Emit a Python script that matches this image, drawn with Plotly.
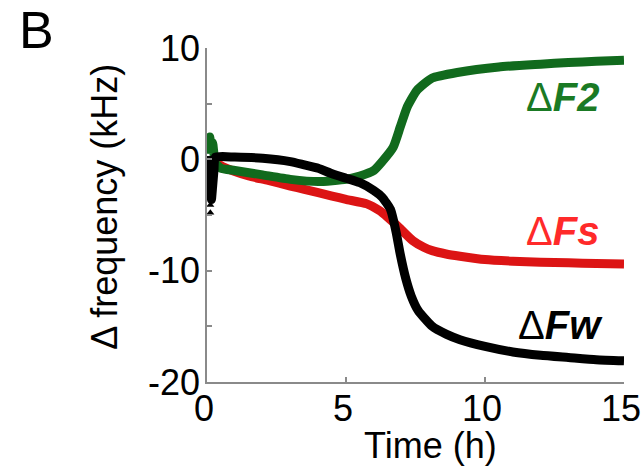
import plotly.graph_objects as go

# ---- data ----
t_fw = [0.0, 0.04, 0.08, 0.12, 0.16, 0.2, 0.25, 0.3, 1.0, 2.0, 3.0, 3.5, 4.0, 4.5, 5.0, 5.5, 6.0, 6.3, 6.6,
        6.8, 6.95, 7.15, 7.35, 7.6, 8.1, 8.6, 9.1, 10.0, 11.0, 12.0, 13.0, 14.0, 15.0]
fw = [0.3, -1.5, -3.2, -2.0, -3.6, -2.5, -1.0, 0.2, 0.2, 0.1, -0.2, -0.5, -0.8, -1.3, -1.7, -2.1, -2.8, -3.4, -4.5,
      -6.5, -8.5, -10.7, -12.3, -13.6, -15.0, -15.7, -16.2, -16.8, -17.3, -17.6, -17.8, -18.0, -18.1]

t_fs = [0.1, 0.3, 0.6, 1.0, 1.5, 2.2, 3.0, 3.5, 4.5, 5.0, 5.75, 6.2, 6.5, 6.9, 7.4, 7.8, 8.1, 8.6,
        9.1, 10.0, 11.0, 12.0, 13.0, 14.0, 15.0]
fs = [-0.5, -0.3, -0.7, -1.1, -1.5, -1.9, -2.4, -2.7, -3.3, -3.6, -4.0, -4.6, -5.2, -6.1, -7.3, -7.9, -8.2, -8.5,
      -8.7, -9.0, -9.15, -9.25, -9.3, -9.35, -9.4]

t_f2 = [0.05, 0.1, 0.15, 0.2, 0.3, 0.5, 1.0, 2.0, 3.0, 4.0, 5.0, 5.5, 6.0, 6.3, 6.7, 6.95, 7.2, 7.55,
        8.1, 9.0, 10.5, 12.0, 13.0, 14.0, 15.0]
f2 = [0.5, 2.0, 1.0, 1.5, -0.3, -0.8, -1.0, -1.4, -1.8, -2.0, -1.8, -1.5, -1.0, -0.2, 1.1, 2.9, 4.7, 6.2,
      7.3, 7.8, 8.3, 8.55, 8.7, 8.8, 8.9]

# scattered early black points (triangle markers)
t_early = [0.12, 0.12]
fw_early = [-4.1, -4.8]

x_ticks = [0, 5, 10, 15]
x_ticklabels = ["0", "5", "10", "15"]
y_ticks = [-20, -15, -10, -5, 0, 5, 10]
y_ticklabels = ["-20", "", "-10", "", "0", "", "10"]

x_title = "Time (h)"
y_title = "Δ frequency (kHz)"
panel_letter = "B"

labels = ["Δ<b><i>F2</i></b>", "Δ<b><i>Fs</i></b>", "Δ<b><i>Fw</i></b>"]
label_t = [12.8, 12.8, 12.7]
label_y = [5.6, -6.4, -14.9]

GREEN = "#116a1d"
RED = "#dc1414"
LABEL_COLORS = ["#1a7a24", "#ff2a2a", "#000000"]
FONT = "Liberation Sans, Arial, sans-serif"
FS = 36

line_style = dict(width=9, shape="spline", smoothing=0.5)

fig = go.Figure()
fig.add_trace(go.Scatter(x=t_fs, y=fs, mode="lines", line=dict(color=RED, **line_style), showlegend=False))
fig.add_trace(go.Scatter(x=t_f2, y=f2, mode="lines", line=dict(color=GREEN, **line_style), showlegend=False))
fig.add_trace(go.Scatter(x=t_fw, y=fw, mode="lines", line=dict(color="black", **line_style), showlegend=False))
fig.add_trace(go.Scatter(x=t_early, y=fw_early, mode="markers",
                         marker=dict(symbol="triangle-up", size=7, color="black"),
                         showlegend=False, cliponaxis=False))

for txt, xx, yy, c in zip(labels, label_t, label_y, LABEL_COLORS):
    fig.add_annotation(x=xx, y=yy, xref="x", yref="y", text=txt, showarrow=False,
                       font=dict(family=FONT, size=40, color=c), xanchor="center", yanchor="middle")

fig.add_annotation(x=-0.408, y=1.055, xref="paper", yref="paper", text=panel_letter, showarrow=False,
                   font=dict(family=FONT, size=52, color="black"), xanchor="center", yanchor="middle")
fig.add_annotation(x=0.535, y=-0.19, xref="paper", yref="paper", text=x_title, showarrow=False,
                   font=dict(family=FONT, size=FS, color="black"), xanchor="center", yanchor="middle")
fig.add_annotation(x=-0.245, y=0.524, xref="paper", yref="paper", text=y_title, showarrow=False,
                   textangle=-90,
                   font=dict(family=FONT, size=FS, color="black"), xanchor="center", yanchor="middle")

axis_common = dict(showgrid=False, zeroline=False, showline=True, linecolor="#8a8a8a", linewidth=1.5,
                   ticks="inside", ticklen=5, tickwidth=1.5, tickcolor="#8a8a8a", automargin=False,
                   ticklabeloverflow="allow",
                   tickfont=dict(family=FONT, size=FS, color="black"), mirror=False)

fig.update_layout(
    width=642, height=470,
    margin=dict(l=207, r=18, t=48, b=88),
    paper_bgcolor="white", plot_bgcolor="white",
    xaxis=dict(range=[0, 15], tickvals=x_ticks, ticktext=x_ticklabels, ticklabelstandoff=-6,
               ticklabelshift=-3, **axis_common),
    yaxis=dict(range=[-20, 10], tickvals=y_ticks, ticktext=y_ticklabels, ticklabelstandoff=-2, **axis_common),
)

# remove the default page margin so the figure fills the window exactly
fig.write_html("out.html", config={"displayModeBar": False},
               post_script="document.body.style.margin='0';document.body.style.overflow='hidden';")
